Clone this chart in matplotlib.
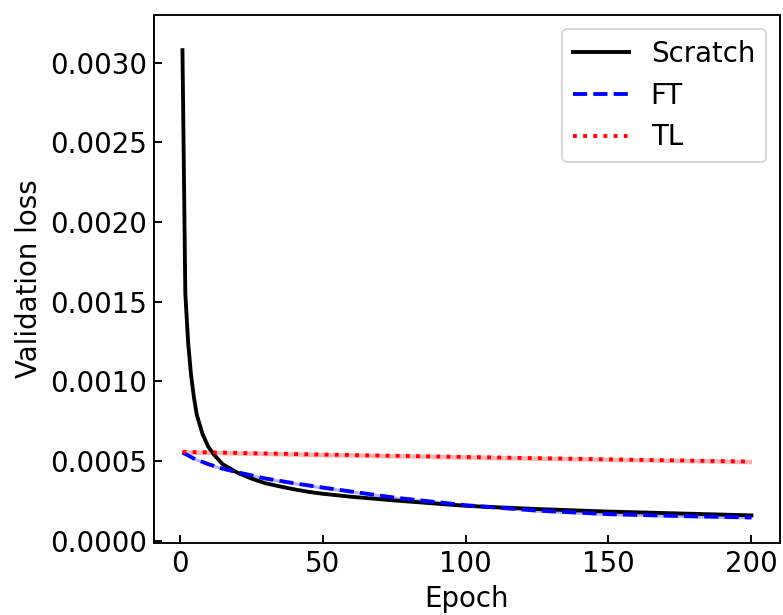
import numpy as np
import matplotlib
matplotlib.use("Agg")
import matplotlib.pyplot as plt
from matplotlib.ticker import FormatStrFormatter

# Data
scratch_epochs = [1, 2, 3, 4, 5, 6, 8, 10, 12, 15, 20, 25, 30, 35, 40, 45, 50, 60, 75,
                  100, 125, 150, 175, 200]
scratch_mean = [0.00308, 0.00155, 0.00124, 0.00104, 0.00090, 0.00079, 0.00067, 0.00059,
                0.00054, 0.00048, 0.000428, 0.00039, 0.00036, 0.00034, 0.000322, 0.000306,
                0.000294, 0.000275, 0.000252, 0.000218, 0.000198, 0.000182, 0.00017, 0.000158]
scratch_std = [0.00007, 0.00002, 0.00001, 0.000008, 0.000006, 0.000005, 0.000005, 0.000005,
               0.000005, 0.000005, 0.000005, 0.000005, 0.000005, 0.000005, 0.000005, 0.000005,
               0.000005, 0.000005, 0.000005, 0.000005, 0.000005, 0.000005, 0.000005, 0.000005]

ft_epochs = [1, 5, 10, 15, 20, 30, 40, 50, 75, 100, 125, 150, 175, 200]
ft_mean = [0.000553, 0.000515, 0.00048, 0.000452, 0.00043, 0.00039, 0.00036, 0.000333,
           0.00027, 0.000222, 0.000188, 0.000166, 0.000154, 0.000145]
ft_std = [0.00001] * len(ft_epochs)

tl_epochs = [1, 50, 100, 150, 200]
tl_mean = [0.000557, 0.00054, 0.000525, 0.00051, 0.000496]
tl_std = [0.000014] * len(tl_epochs)

FS = 14.4
plt.rcParams['font.family'] = ['DejaVu Sans']
fig = plt.figure(figsize=(783 / 138, 615 / 138), dpi=138)
ax = fig.add_axes([0.1967, 0.1170, 0.7993, 0.8586])

def band(x, m, s, color):
    m = np.asarray(m); s = np.asarray(s)
    ax.fill_between(x, m - s, m + s, color=color, alpha=0.3, linewidth=0)

band(scratch_epochs, scratch_mean, scratch_std, 'gray')
band(ft_epochs, ft_mean, ft_std, 'blue')
band(tl_epochs, tl_mean, tl_std, 'red')

ax.plot(scratch_epochs, scratch_mean, color='k', linestyle='-', linewidth=2, label='Scratch')
ax.plot(ft_epochs, ft_mean, color='b', linestyle='--', linewidth=2, label='FT')
ax.plot(tl_epochs, tl_mean, color='r', linestyle=':', linewidth=2, label='TL')

ax.set_xlabel('Epoch', fontsize=FS, labelpad=4)
ax.set_ylabel('Validation loss', fontsize=FS, labelpad=4)
ax.yaxis.set_major_formatter(FormatStrFormatter('%.4f'))
ax.set_xticks([0, 50, 100, 150, 200])
ax.set_yticks([0.0, 0.0005, 0.0010, 0.0015, 0.0020, 0.0025, 0.0030])
ax.tick_params(direction='in', labelsize=FS, length=4, width=1.0)
for sp in ax.spines.values():
    sp.set_linewidth(1.0)

ax.legend(loc='upper right', fontsize=FS)

fig.savefig('out.png', dpi=138)
